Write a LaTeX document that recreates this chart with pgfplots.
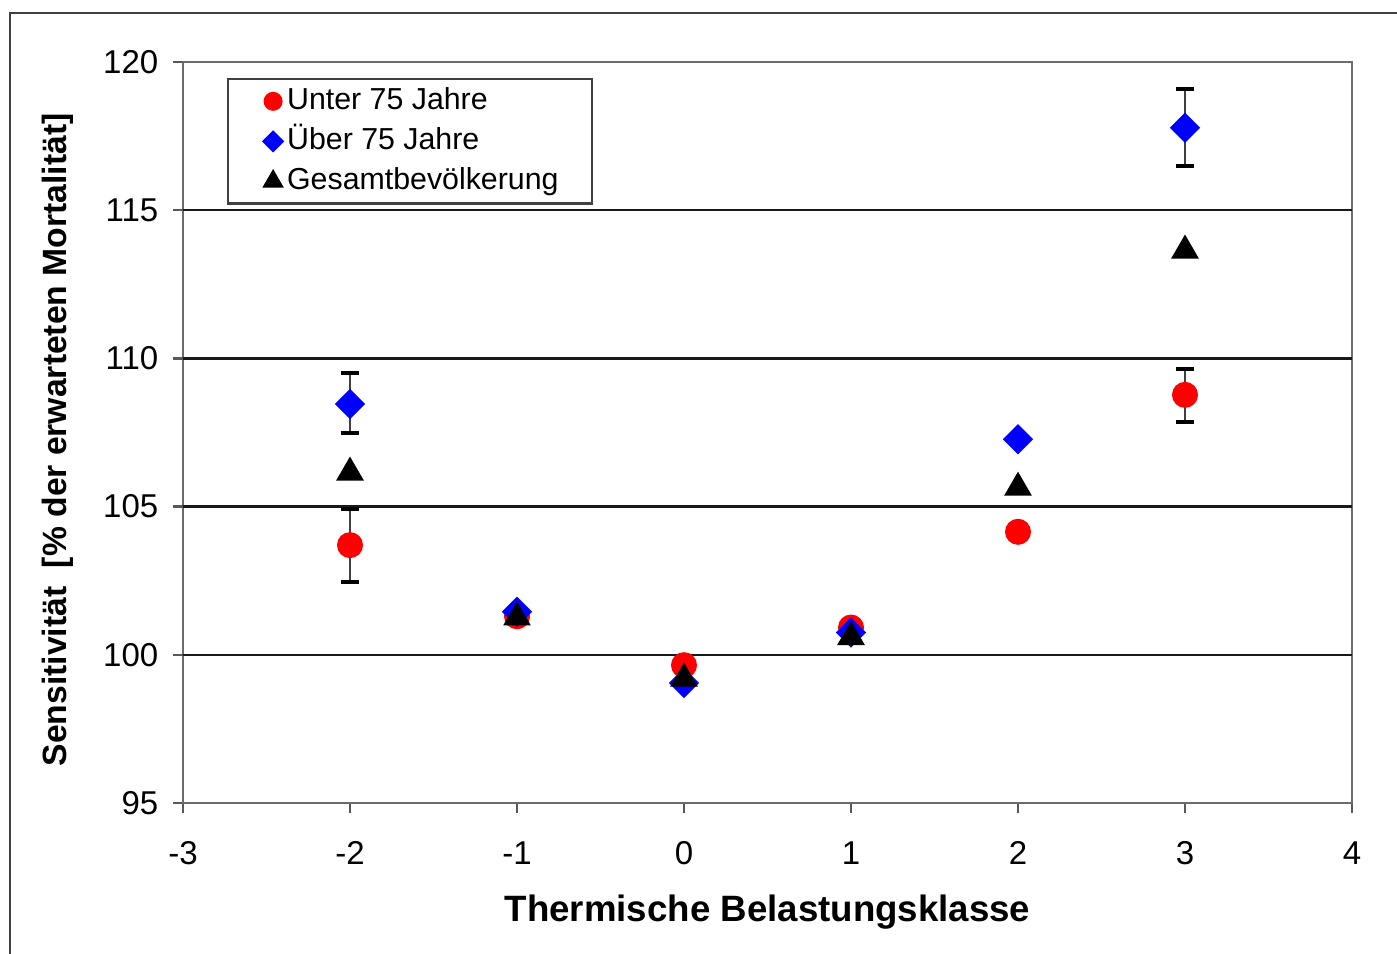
\documentclass[border=0pt]{standalone}
\usepackage{fontspec}
\setmainfont{Liberation Sans}
\usepackage{pgfplots}
\pgfplotsset{compat=1.18}
\begin{document}
\begin{tikzpicture}
\useasboundingbox (-54.9pt,-45pt) rectangle (364.2pt,240.9pt);
\draw[line width=0.7pt, black!75] (-51.9pt,-60pt) rectangle (380pt,237pt);
\begin{axis}[
  at={(0pt,0pt)}, anchor=south west, scale only axis,
  width=350.7pt, height=222.3pt,
  xmin=-3, xmax=4, ymin=95, ymax=120,
  xtick={-3,-2,-1,0,1,2,3,4}, ytick={95,100,105,110,115,120},
  xtick pos=left, ytick pos=left,
  axis line style={gray!85!black, line width=0.8pt},
  tick style={gray!70!black, line width=0.7pt},
  tick align=outside, major tick length=3pt,
  extra y ticks={100,105,110,115}, extra y tick labels={},
  extra y tick style={grid=major, major grid style={black!90, line width=0.7pt}},
  /pgf/number format/assume math mode=true,
  tick label style={font=\fontsize{9.9}{12}\selectfont},
  xticklabel style={anchor=center, yshift=-12pt},
  yticklabel style={anchor=east, xshift=-0.9pt},
  xlabel={Thermische Belastungsklasse},
  ylabel={Sensitivität\ \ [\% der erwarteten Mortalität]},
  xlabel style={font=\bfseries\fontsize{11}{13}\selectfont, at={(axis description cs:0.5,-0.147)}, anchor=center},
  ylabel style={font=\bfseries\fontsize{10.1}{12}\selectfont, at={(axis description cs:-0.107,0.49)}, anchor=center},
  legend style={at={(axis description cs:0.0376,0.9784)}, anchor=north west,
    draw=black!75, line width=0.7pt, fill=white,
    font=\fontsize{9.1}{11}\selectfont, inner xsep=9pt, inner ysep=1.5pt,
    nodes={inner sep=1pt, text height=6.5pt, text depth=1.8pt}, row sep=1.7pt},
  legend cell align=left,
  legend image code/.code={\path[draw=none] (-4.5pt,0pt) -- (3.2pt,0pt);
    \path[#1, draw=none] plot[mark repeat=2,mark phase=2] coordinates {(-3pt,0pt)(0pt,0pt)(3pt,0pt)};},
]
% error bars
\addplot[only marks, mark=none, forget plot,
  error bars/.cd, y dir=both, y explicit,
  error bar style={draw=black!75, line width=0.6pt},
  error mark options={rotate=90, mark size=2.7pt, line width=1pt, draw=black}]
  coordinates {(-2,103.7) += (0,1.22) -= (0,1.24)
               (3,108.77) += (0,0.87) -= (0,0.92)
               (-2,108.46) += (0,1.05) -= (0,0.98)
               (3,117.78) += (0,1.31) -= (0,1.29)};
\addplot[only marks, mark=*, mark size=3.7pt, color=red,
  legend image post style={mark size=2.5pt}]
  coordinates {(-2,103.7) (-1,101.3) (0,99.65) (1,100.92) (2,104.15) (3,108.77)};
\addlegendentry{Unter 75 Jahre}
\addplot[only marks, mark=square*, mark options={rotate=45}, mark size=3pt, color=blue,
  legend image post style={mark size=2pt}]
  coordinates {(-2,108.46) (-1,101.45) (0,99.05) (1,100.75) (2,107.27) (3,117.78)};
\addlegendentry{Über 75 Jahre}
\addplot[only marks, mark=triangle*, mark size=4.4pt, color=black,
  legend image post style={mark size=3pt}]
  coordinates {(-2,106.15) (-1,101.26) (0,99.2) (1,100.6) (2,105.64) (3,113.64)};
\addlegendentry{Gesamtbevölkerung}
\end{axis}
\end{tikzpicture}
\end{document}
